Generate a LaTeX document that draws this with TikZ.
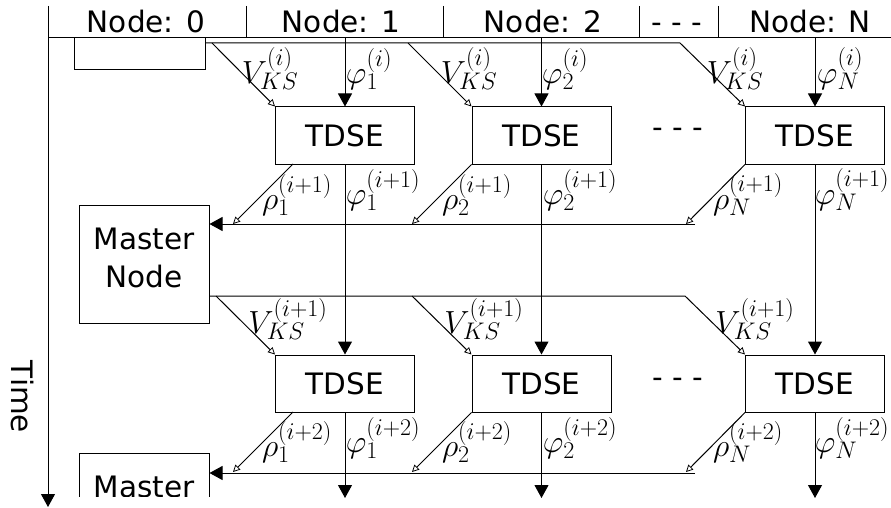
\RequirePackage{fix-cm}
\documentclass[tikz,border=0pt]{standalone}
\usepackage[no-math]{fontspec}
\setmainfont{DejaVu Sans}
\DeclareMathSizes{32}{32}{24}{19}
\usetikzlibrary{arrows.meta}
\begin{document}
\begin{tikzpicture}[x=1pt,y=-1pt, line width=1pt,
  txt/.style={font=\fontsize{29.5}{38}\selectfont, inner sep=0pt},
  mth/.style={font=\fontsize{32}{38}\selectfont, inner sep=0pt},
  tbox/.style={draw, minimum width=139pt, minimum height=57pt, inner sep=0pt, font=\fontsize{29.5}{38}\selectfont},
  mbox/.style={draw, minimum width=130pt, minimum height=118pt, inner sep=0pt},
  fa/.style={-{Triangle[length=13pt,width=14pt]}},
  oa/.style={-{Triangle[open,length=7pt,width=7pt,line width=0.8pt]}}]
\useasboundingbox (0,0) rectangle (891,508);

% time axis and header
\coordinate (tstart) at (48,6);
\coordinate (tend) at (48,507);
\draw[fa] (tstart) -- (tend);
\node[txt, rotate=-90] (time) at (22.5,397) {Time};
\coordinate (hl) at (48,38);
\coordinate (hr) at (891,38);
\draw (hl) -- (hr);
\foreach \x/\n in {246/s1,443/s2,639/s3,718/s4}{
  \coordinate (\n t) at (\x,6);
  \coordinate (\n b) at (\x,38);
  \draw (\n t) -- (\n b);
}
\node[txt, anchor=base] (n0) at (146,33) {Node: 0};
\node[txt, anchor=base] (n1) at (341,33) {Node: 1};
\node[txt, anchor=base] (n2) at (543,33) {Node: 2};
\node[txt, anchor=base] (nd) at (677,33) {- - -};
\node[txt, anchor=base] (nN) at (810,33) {Node: N};

% top master fragment
\node[draw, minimum width=131pt, minimum height=32pt, inner sep=0pt] (m0) at (139.5,54) {};

% TDSE boxes
\node[tbox] (a1) at (345,135.5) {TDSE};
\node[tbox] (a2) at (541.5,135.5) {TDSE};
\node[tbox] (aN) at (815,135.5) {TDSE};
\node[txt] (d1) at (678,133) {- - -};
\node[tbox] (b1) at (345,383.5) {TDSE};
\node[tbox] (b2) at (541.5,383.5) {TDSE};
\node[tbox] (bN) at (815,383.5) {TDSE};
\node[txt] (d2) at (678,383) {- - -};

% master nodes
\node[mbox] (m1) at (144,264) {};
\node[txt, align=center] (m1t) at (144,258) {Master\\Node};
\begin{scope}
\clip (60,440) rectangle (230,496.5);
\node[mbox] (m2) at (144,512) {};
\node[txt, anchor=base] (m2t) at (144,497) {Master};
\end{scope}

% row 1 inputs
\coordinate (h1) at (345,38);
\coordinate (h2) at (541.5,38);
\coordinate (hN) at (815,38);
\draw[fa] (h1) -- (a1.north);
\draw[fa] (h2) -- (a2.north);
\draw[fa] (hN) -- (aN.north);
\coordinate (v0s) at (205,43);
\coordinate (v0k) at (680,43);
\coordinate (v01) at (212,43);
\coordinate (v02) at (408,43);
\draw[oa] (v0s) -- (v0k) -- (aN.north west);
\draw[oa] (v01) -- (a1.north west);
\draw[oa] (v02) -- (a2.north west);

% row 1 outputs
\coordinate (p11) at (293,164);
\coordinate (q11) at (233,224);
\coordinate (q12) at (412,224);
\coordinate (q1N) at (686,224);
\draw[oa] (p11) -- (q11);
\draw[oa] (a2.south west) -- (q12);
\draw[oa] (aN.south west) -- (q1N);
\coordinate (r1) at (695,224);
\draw[fa] (r1) -- (r1 -| m1.east);
\draw[fa] (a1.south) -- (b1.north);
\draw[fa] (a2.south) -- (b2.north);
\draw[fa] (aN.south) -- (bN.north);

% row 2 inputs
\coordinate (w0s) at (209,296);
\coordinate (w0k) at (685,296);
\coordinate (w01) at (216,296);
\coordinate (w02) at (412,296);
\draw[oa] (w0s) -- (w0k) -- (bN.north west);
\draw[oa] (w01) -- (b1.north west);
\draw[oa] (w02) -- (b2.north west);

% row 2 outputs
\coordinate (p21) at (293,412);
\coordinate (q21) at (233,472);
\coordinate (q22) at (412,472);
\coordinate (q2N) at (686,472);
\draw[oa] (p21) -- (q21);
\draw[oa] (b2.south west) -- (q22);
\draw[oa] (bN.south west) -- (q2N);
\coordinate (r2) at (695,473);
\draw[fa] (r2) -- (r2 -| m2.east);
\coordinate (e1) at (345,498);
\coordinate (e2) at (541.5,498);
\coordinate (eN) at (815,498);
\draw[fa] (b1.south) -- (e1);
\draw[fa] (b2.south) -- (e2);
\draw[fa] (bN.south) -- (eN);

% labels row 1
\node[mth] (lv11) at (270,69) {$V_{KS}^{(i)}$};
\node[mth] (lv12) at (469,69) {$V_{KS}^{(i)}$};
\node[mth] (lv1N) at (735,69) {$V_{KS}^{(i)}$};
\node[mth] (lf11) at (369,69) {$\varphi_1^{(i)}$};
\node[mth] (lf12) at (565,69) {$\varphi_2^{(i)}$};
\node[mth] (lf1N) at (840,69) {$\varphi_N^{(i)}$};
% labels row 2
\node[mth] (lr21) at (297,195) {$\rho_1^{(i+1)}$};
\node[mth] (lr22) at (477,195) {$\rho_2^{(i+1)}$};
\node[mth] (lr2N) at (748,195) {$\rho_N^{(i+1)}$};
\node[mth] (lf21) at (383,190) {$\varphi_1^{(i+1)}$};
\node[mth] (lf22) at (580,190) {$\varphi_2^{(i+1)}$};
\node[mth] (lf2N) at (852,190) {$\varphi_N^{(i+1)}$};
\node[mth] (lv21) at (288,319) {$V_{KS}^{(i+1)}$};
\node[mth] (lv22) at (484,319) {$V_{KS}^{(i+1)}$};
\node[mth] (lv2N) at (755,319) {$V_{KS}^{(i+1)}$};
% labels row 3
\node[mth] (lr31) at (297,442) {$\rho_1^{(i+2)}$};
\node[mth] (lr32) at (477,442) {$\rho_2^{(i+2)}$};
\node[mth] (lr3N) at (748,442) {$\rho_N^{(i+2)}$};
\node[mth] (lf31) at (383,438) {$\varphi_1^{(i+2)}$};
\node[mth] (lf32) at (580,438) {$\varphi_2^{(i+2)}$};
\node[mth] (lf3N) at (852,438) {$\varphi_N^{(i+2)}$};
\end{tikzpicture}
\end{document}
